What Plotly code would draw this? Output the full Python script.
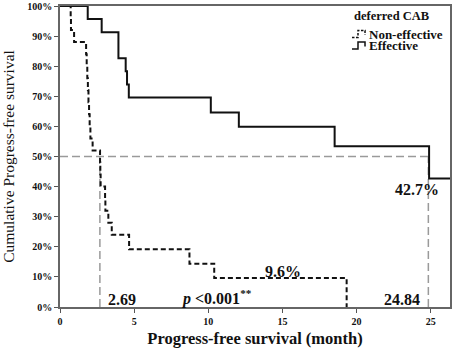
import plotly.graph_objects as go

# Kaplan-Meier step data (months, survival fraction)
noneff_time = [0, 0.72, 0.74, 0.95, 1.76, 1.80, 1.84, 1.88, 1.92, 1.96, 2.00, 2.05, 2.20,
               2.70, 2.72, 2.74, 3.04, 3.06, 3.26, 3.49, 4.66, 8.73, 10.40, 19.33]
noneff_surv = [1.00, 0.96, 0.92, 0.88, 0.84, 0.80, 0.76, 0.72, 0.68, 0.64, 0.60, 0.56, 0.52,
               0.48, 0.44, 0.40, 0.36, 0.32, 0.28, 0.24, 0.192, 0.144, 0.096, 0.0]

eff_time = [0, 1.87, 2.81, 3.94, 4.43, 4.52, 4.64, 10.17, 12.06, 18.52, 24.89, 26.3]
eff_surv = [1.00, 0.957, 0.913, 0.826, 0.783, 0.739, 0.696, 0.646, 0.599, 0.534, 0.427, 0.427]

medians = [2.69, 24.84]
median_level = 0.5

x_ticks = [0, 5, 10, 15, 20, 25]
y_ticks = [0, 0.1, 0.2, 0.3, 0.4, 0.5, 0.6, 0.7, 0.8, 0.9, 1.0]
y_ticklabels = ["0%", "10%", "20%", "30%", "40%", "50%", "60%", "70%", "80%", "90%", "100%"]

legend_title = "deferred CAB"
group_names = ["Non-effective", "Effective"]

SERIF = "Liberation Serif"
gray = "#9a9a9a"
ink = "#111111"

fig = go.Figure()

# median reference lines
fig.add_trace(go.Scatter(x=[0, medians[1]], y=[median_level, median_level], mode="lines",
                         line=dict(color=gray, width=1.5, dash="8px,4px"),
                         showlegend=False, hoverinfo="skip"))
for m in medians:
    fig.add_trace(go.Scatter(x=[m, m], y=[0, median_level], mode="lines",
                             line=dict(color=gray, width=1.5, dash="8px,4px"),
                             showlegend=False, hoverinfo="skip"))

fig.add_trace(go.Scatter(x=noneff_time, y=noneff_surv, mode="lines", line_shape="hv",
                         name=group_names[0], showlegend=False,
                         line=dict(color=ink, width=2, dash="5px,3px")))
fig.add_trace(go.Scatter(x=eff_time, y=eff_surv, mode="lines", line_shape="hv",
                         name=group_names[1], showlegend=False,
                         line=dict(color=ink, width=2)))

ann_font = dict(family=SERIF, size=16, color=ink)
fig.add_annotation(x=3.1, y=0.026, text="<b>%.2f</b>" % medians[0], showarrow=False,
                   xanchor="left", yanchor="middle", font=ann_font)
fig.add_annotation(x=8.0, y=0.03, showarrow=False, xanchor="left", yanchor="middle",
                   text="<b><i>p</i> <0.001<sup>**</sup></b>", font=ann_font)
fig.add_annotation(x=15.06, y=0.119, text="<b>9.6%</b>", showarrow=False, xanchor="center",
                   yanchor="middle", font=ann_font)
fig.add_annotation(x=24.44, y=0.026, text="<b>%.2f</b>" % medians[1], showarrow=False,
                   xanchor="right", yanchor="middle", font=ann_font)
fig.add_annotation(x=24.1, y=0.391, text="<b>42.7%</b>", showarrow=False, xanchor="center",
                   yanchor="middle", font=ann_font)

# --- hand-made legend (paper coords: plot spans px 60..450 x, 6..307 y) ---
def px(x):
    return (x - 60) / 390.0

def py(y):
    return (307 - y) / 301.0

fig.add_annotation(xref="paper", yref="paper", x=px(391), y=py(16), text="<b>%s</b>" % legend_title,
                   showarrow=False, xanchor="center", yanchor="middle",
                   font=dict(family=SERIF, size=12.5, color=ink))
fig.add_annotation(xref="paper", yref="paper", x=px(367), y=py(34), text="<b>%s</b>" % group_names[0],
                   showarrow=False, xanchor="left", yanchor="middle",
                   font=dict(family=SERIF, size=13, color=ink))
fig.add_annotation(xref="paper", yref="paper", x=px(367), y=py(46), text="<b>%s</b>" % group_names[1],
                   showarrow=False, xanchor="left", yanchor="middle",
                   font=dict(family=SERIF, size=13, color=ink))

def glyph(y0, dash):
    pts = [(352, y0 + 3.5), (358, y0 + 3.5), (358, y0 - 3.5), (365, y0 - 3.5), (365, y0 + 1)]
    path = "M " + " L ".join("%.4f,%.4f" % (px(a), py(b)) for a, b in pts)
    fig.add_shape(type="path", xref="paper", yref="paper", path=path,
                  line=dict(color=ink, width=1.5, dash=dash))

glyph(34, "2.5px,1.5px")
glyph(45.5, "solid")

fig.update_layout(
    width=454, height=348,
    margin=dict(l=60, r=4, t=6, b=41),
    paper_bgcolor="white", plot_bgcolor="white",
    font=dict(family=SERIF, color=ink),
    showlegend=False,
    xaxis=dict(range=[0, 26.3], tickvals=x_ticks,
               ticktext=["<b>%d</b>" % v for v in x_ticks],
               ticks="outside", ticklen=4, automargin=False,
               tickcolor="#555", showgrid=False, zeroline=False,
               showline=True, linecolor="#666", linewidth=1.5, mirror=True,
               tickfont=dict(family=SERIF, size=10, color=ink),
               title=dict(text="<b>Progress-free survival (month)</b>",
                          font=dict(family=SERIF, size=16.5, color=ink))),
    yaxis=dict(range=[0, 1], tickvals=y_ticks,
               ticktext=["<b>%s</b>" % t for t in y_ticklabels],
               ticks="outside", automargin=False,
               ticklen=4, tickcolor="#555", showgrid=False, zeroline=False,
               showline=True, linecolor="#666", linewidth=1.5, mirror=True,
               tickfont=dict(family=SERIF, size=10, color=ink),
               title=dict(text="Cumulative Progress-free survival",
                          font=dict(family=SERIF, size=15.5, color=ink))),
)

fig.write_html("out.html", config={"displayModeBar": False},
               post_script="document.body.style.margin='0';")
